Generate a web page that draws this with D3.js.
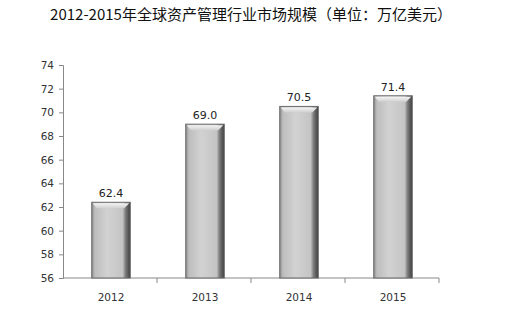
<!DOCTYPE html>
<html>
<head>
<meta charset="utf-8">
<script src="https://cdn.jsdelivr.net/npm/d3@7"></script>
<style>
  body { margin: 0; background: #fff; }
  svg { display: block; }
</style>
</head>
<body>
<div id="chart"></div>
<script>
const years = ["2012", "2013", "2014", "2015"];
const values = [62.4, 69.0, 70.5, 71.4];
const yTicks = [56, 58, 60, 62, 64, 66, 68, 70, 72, 74];
const title = "2012-2015年全球资产管理行业市场规模（单位：万亿美元）";

const width = 508, height = 311;
const m = { top: 65, right: 69, bottom: 33, left: 63 };

const svg = d3.select("#chart").append("svg")
  .attr("width", width)
  .attr("height", height);

const defs = svg.append("defs");
const grad = defs.append("linearGradient").attr("id", "barGrad")
  .attr("x1", "0%").attr("x2", "100%").attr("y1", "0%").attr("y2", "0%");
grad.append("stop").attr("offset", "0%").attr("stop-color", "#8a8a8a");
grad.append("stop").attr("offset", "8%").attr("stop-color", "#bdbdbd");
grad.append("stop").attr("offset", "40%").attr("stop-color", "#d2d2d2");
grad.append("stop").attr("offset", "80%").attr("stop-color", "#c4c4c4");
grad.append("stop").attr("offset", "88%").attr("stop-color", "#7a7a7a");
grad.append("stop").attr("offset", "100%").attr("stop-color", "#3e3e3e");

const topGrad = defs.append("linearGradient").attr("id", "topGrad")
  .attr("x1", "0%").attr("x2", "0%").attr("y1", "0%").attr("y2", "100%");
topGrad.append("stop").attr("offset", "0%").attr("stop-color", "#f4f4f4");
topGrad.append("stop").attr("offset", "100%").attr("stop-color", "#cfcfcf");

svg.append("text")
  .attr("x", 251)
  .attr("y", 20)
  .attr("text-anchor", "middle")
  .style("font-family", "'Noto Sans CJK SC', 'DejaVu Sans', sans-serif")
  .style("font-size", "15px")
  .style("fill", "#111")
  .text(title);

const x = d3.scaleBand().domain(years)
  .range([m.left, width - m.right])
  .paddingInner(0).paddingOuter(0);

const y = d3.scaleLinear().domain([56, 74])
  .range([height - m.bottom, m.top]);

const g = svg.append("g");

// y axis
const yAxis = g.append("g")
  .attr("transform", `translate(${m.left},0)`)
  .call(d3.axisLeft(y).tickValues(yTicks).tickSize(4).tickPadding(5));
yAxis.select(".domain").attr("stroke", "#888");
yAxis.selectAll(".tick line").attr("stroke", "#888");
yAxis.selectAll("text")
  .style("font-family", "'DejaVu Sans', sans-serif")
  .style("font-size", "10.5px")
  .style("fill", "#333");

// x axis with ticks at category boundaries
const xAxisG = g.append("g")
  .attr("transform", `translate(0,${y(56)})`);
xAxisG.append("line")
  .attr("x1", m.left).attr("x2", width - m.right)
  .attr("stroke", "#888");
const bounds = years.map(d => x(d)).concat([x(years[years.length - 1]) + x.bandwidth()]);
xAxisG.selectAll(".bt").data(bounds.slice(1)).enter().append("line")
  .attr("x1", d => d).attr("x2", d => d)
  .attr("y1", 0).attr("y2", 5)
  .attr("stroke", "#888");
xAxisG.selectAll(".xl").data(years).enter().append("text")
  .attr("x", d => x(d) + x.bandwidth() / 2 + 1)
  .attr("y", 23)
  .attr("text-anchor", "middle")
  .style("font-family", "'DejaVu Sans', sans-serif")
  .style("font-size", "10.5px")
  .style("fill", "#333")
  .text(d => d);

// bars
const barW = x.bandwidth() * 0.41;
const bars = g.selectAll(".bar").data(years.map((d, i) => ({ year: d, v: values[i] })))
  .enter().append("g").attr("class", "bar");

bars.append("rect")
  .attr("x", d => x(d.year) + x.bandwidth() / 2 - barW / 2 + 1)
  .attr("y", d => y(d.v))
  .attr("width", barW)
  .attr("height", d => y(56) - y(d.v))
  .attr("fill", "url(#barGrad)")
  .attr("stroke", "#6a6a6a")
  .attr("stroke-width", 1);

// top bevel
bars.append("path")
  .attr("d", d => {
    const x0 = x(d.year) + x.bandwidth() / 2 - barW / 2 + 1;
    const y0 = y(d.v);
    return `M${x0 + 1},${y0 + 1} L${x0 + barW - 1},${y0 + 1} L${x0 + barW - 6},${y0 + 6} L${x0 + 5},${y0 + 6} Z`;
  })
  .attr("fill", "url(#topGrad)");

bars.append("text")
  .attr("x", d => x(d.year) + x.bandwidth() / 2 + 1)
  .attr("y", d => y(d.v) - 5)
  .attr("text-anchor", "middle")
  .style("font-family", "'DejaVu Sans', sans-serif")
  .style("font-size", "11px")
  .style("fill", "#222")
  .text(d => d.v.toFixed(1));
</script>
</body>
</html>
